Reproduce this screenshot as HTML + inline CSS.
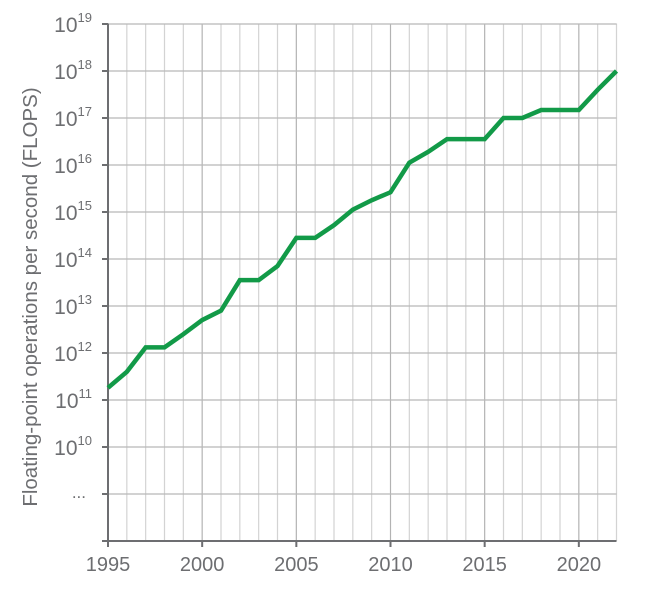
<!DOCTYPE html>
<html><head><meta charset="utf-8"><style>
body{margin:0;background:#fff;font-family:"Liberation Sans",sans-serif}
svg text{fill:#6d6e71;font-family:"Liberation Sans",sans-serif}
</style></head><body>
<svg id="chart" width="650" height="598" xmlns="http://www.w3.org/2000/svg">
<g id="grid"></g>
<g id="axes"></g>
<g id="series"></g>
<text transform="translate(37,297) rotate(-90)" text-anchor="middle" font-size="20.5">Floating-point operations per second (FLOPS)</text>
</svg>
<script>
const years=[1995,1996,1997,1998,1999,2000,2001,2002,2003,2004,2005,2006,2007,2008,2009,2010,2011,2012,2013,2014,2015,2016,2017,2018,2019,2020,2021,2022];
const logFlops=[11.26,11.6,12.12,12.12,12.4,12.7,12.9,13.55,13.55,13.85,14.45,14.45,14.72,15.05,15.25,15.42,16.05,16.28,16.55,16.55,16.55,17.0,17.0,17.17,17.17,17.17,17.6,18.0];
const yExponents=[10,11,12,13,14,15,16,17,18,19];
const xTickLabels=[1995,2000,2005,2010,2015,2020];
const NS="http://www.w3.org/2000/svg";
const x=v=>108+(v-1995)*(616.5-108)/27;
const y=e=>447-(e-10)*47;
const grid=document.getElementById('grid'),axes=document.getElementById('axes'),series=document.getElementById('series');
function mk(tag,attrs,parent){const el=document.createElementNS(NS,tag);for(const k in attrs)el.setAttribute(k,attrs[k]);parent.appendChild(el);return el;}
for(let yr=1996;yr<=2022;yr++){
  const l=mk('line',{x1:x(yr),x2:x(yr),y1:23.5,y2:541,stroke:yr%5===0?'#b3b3b3':'#d3d3d3','stroke-width':1.2},grid);
  
  
}
const hvals=yExponents.map(y).concat([494]);
hvals.forEach(py=>{
  const l=mk('line',{x1:103,x2:616.5,y1:py,y2:py,stroke:'#b8b8b8','stroke-width':1.2},grid);
  
  
});
let a=mk('line',{x1:108,x2:108,y1:23.5,y2:546,stroke:'#6d6e71','stroke-width':2},axes);

a=mk('line',{x1:102,x2:616.5,y1:541,y2:541,stroke:'#6d6e71','stroke-width':2},axes);

hvals.forEach(py=>{const t=mk('line',{x1:102,x2:108,y1:py,y2:py,stroke:'#6d6e71','stroke-width':2},axes);});
yExponents.forEach(e=>{
  const t=mk('text',{x:92,y:y(e)+8,'text-anchor':'end','font-size':21},axes);
  
  
  t.textContent='10';
  const s=mk('tspan',{dy:-10,'font-size':13},t);s.textContent=e;
});
const d=mk('text',{x:86,y:498,'text-anchor':'end','font-size':17},axes);


d.textContent='...';
xTickLabels.forEach(v=>{
  const t=mk('line',{x1:x(v),x2:x(v),y1:541,y2:547,stroke:'#6d6e71','stroke-width':2},axes);
  
  const l=mk('text',{x:x(v),y:571,'text-anchor':'middle','font-size':20},axes);
  
  
  l.textContent=v;
});
const p=mk('polyline',{points:years.map((yr,i)=>x(yr)+','+y(logFlops[i])).join(' '),fill:'none',stroke:'#129a48','stroke-width':4.5,'stroke-linejoin':'miter'},series);


</script>
</body></html>
